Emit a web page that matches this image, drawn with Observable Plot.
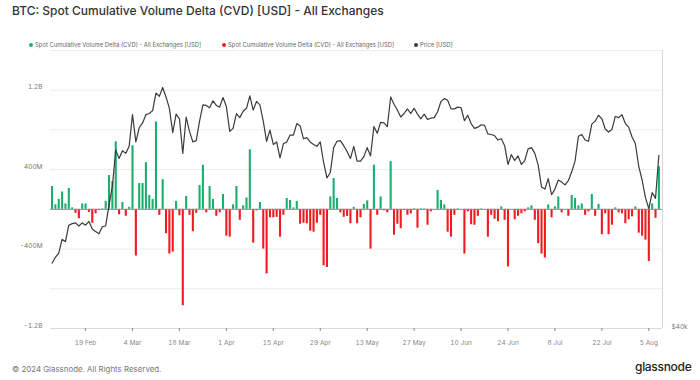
<!DOCTYPE html>
<html><head><meta charset="utf-8">
<script src="https://cdn.jsdelivr.net/npm/d3@7"></script>
<script src="https://cdn.jsdelivr.net/npm/@observablehq/plot@0.6"></script>
<style>
html,body{margin:0;padding:0;background:#fff;}
#wrap{position:relative;width:700px;height:380px;overflow:hidden;font-family:Inter,"Open Sans",sans-serif;}
#title{position:absolute;left:12px;top:3px;font-size:12px;font-weight:500;color:#333;white-space:nowrap;}
.item{position:absolute;top:41px;display:flex;align-items:center;font-size:5.9px;color:#666;white-space:nowrap;}
.dot{width:4px;height:4px;border-radius:50%;margin-right:2px;}
#chart,#price{position:absolute;left:0;top:0;}
#foot{position:absolute;left:12px;top:364px;font-size:7.9px;color:#777;white-space:nowrap;}
#logo{position:absolute;left:635px;top:359px;font-size:12px;font-weight:500;color:#222;letter-spacing:-0.3px;}
</style></head>
<body>
<div id="wrap">
  <div id="title"></div>
  <div id="legend"></div>
  <div id="chart"></div>
  <div id="price"></div>
  <div id="foot"></div>
  <div id="logo"></div>
</div>
<script>
const titleText = "BTC: Spot Cumulative Volume Delta (CVD) [USD] - All Exchanges";
const seriesNames = ["Spot Cumulative Volume Delta (CVD) - All Exchanges [USD]", "Spot Cumulative Volume Delta (CVD) - All Exchanges [USD]", "Price [USD]"];
const seriesColors = ["#1aaf6c", "#f2191f", "#3a3a3a"];
const footText = "© 2024 Glassnode. All Rights Reserved.";
const logoText = "glassnode";

// daily, 9 Feb 2024 .. 8 Aug 2024
const startDate = Date.UTC(2024, 1, 9);
const endDate = Date.UTC(2024, 7, 9);

// Spot CVD per day, millions USD
const cvdM = [
 230,45,100,175,55,210,15,-40,-95,55,55,-30,-140,-45,-12,5,80,340,280,680,
 -55,70,-70,20,640,-470,260,260,470,140,100,880,-60,300,-245,-450,-430,80,-65,-970,
 130,-60,-225,-40,240,445,-35,230,100,-70,-35,150,-270,-280,45,230,-110,35,115,600,
 -340,-15,70,-400,-650,-85,-85,-80,-280,-60,110,90,15,80,-150,-140,-145,-220,-230,-140,
 -60,-570,-585,125,310,110,-35,-80,-70,-145,20,-145,-85,50,85,-400,445,-60,125,-15,
 -35,480,-260,-150,-195,-10,-60,-45,5,-190,5,5,-160,-25,0,190,90,45,-230,-280,
 -60,5,0,-450,-25,-155,-160,-70,5,0,-280,-60,-100,-125,25,-110,-580,0,-105,-70,
 -45,-25,15,35,-110,-345,-450,-490,45,-85,25,125,-35,0,-70,140,110,35,55,-60,
 -25,150,-70,50,-255,-45,-255,-160,15,-35,-45,-145,-105,-75,25,-240,-270,-310,-525,55,
 -90,430
];

// BTC price per day, thousands USD
const priceK = [
 47.1,47.8,48.3,50.0,49.7,51.8,52.0,52.1,51.7,52.1,51.8,52.3,51.3,51.0,50.7,51.6,51.7,54.5,57.1,62.5,61.2,
 62.4,62.0,63.1,68.3,63.8,66.1,66.9,68.3,68.5,69.0,72.1,71.5,73.1,71.4,69.4,65.3,68.4,67.6,62.0,67.9,65.5,63.8,64.0,67.2,70.0,69.9,69.5,70.7,69.9,69.6,71.3,
 69.7,65.5,66.0,68.5,67.8,68.9,69.4,71.6,69.1,70.6,70.0,67.2,63.9,65.7,63.4,63.8,61.3,63.5,63.8,64.9,64.9,66.8,66.4,64.3,64.5,63.8,63.4,63.1,63.8,60.6,
 58.3,59.1,62.9,63.9,64.0,63.2,62.3,61.2,63.1,60.8,60.8,61.5,62.9,61.6,66.3,65.2,67.0,66.9,66.3,71.4,70.1,69.1,67.9,68.5,69.3,68.5,69.4,68.4,67.6,68.4,67.5,
 67.7,67.8,68.8,70.6,71.1,70.8,69.3,69.3,69.6,69.5,67.3,68.2,66.8,66.0,66.2,66.6,66.5,65.1,65.0,64.8,64.1,64.3,63.2,60.3,61.8,60.9,61.6,60.3,60.9,62.7,
 62.9,62.0,60.2,57.0,56.7,58.2,55.9,56.7,58.0,57.7,57.3,57.9,59.2,60.8,64.7,65.0,64.1,63.9,66.7,67.2,68.2,67.6,65.9,65.4,65.8,68.0,67.8,68.3,66.8,66.2,64.6,
 63.5,60.0,58.0,55.5,54.0,56.2,55.4,61.7
];

// axis ticks
const cvdTicks = [-1.2e9, -4e8, 4e8, 1.2e9];
const cvdTickLabels = ["-1.2B", "-400M", "400M", "1.2B"];
const cvdGrid = [-1.2e9, -8e8, -4e8, 0, 4e8, 8e8, 1.2e9, 1.6e9];
const priceTicks = [40000];
const priceTickLabels = ["$40k"];
const xTickDates = ["2024-02-19","2024-03-04","2024-03-18","2024-04-01","2024-04-15","2024-04-29","2024-05-13","2024-05-27","2024-06-10","2024-06-24","2024-07-08","2024-07-22","2024-08-05"];
const xTickLabels = ["19 Feb","4 Mar","18 Mar","1 Apr","15 Apr","29 Apr","13 May","27 May","10 Jun","24 Jun","8 Jul","22 Jul","5 Aug"];

// ---- build
document.getElementById("title").textContent = titleText;
document.getElementById("foot").textContent = footText;
document.getElementById("logo").textContent = logoText;
const legendLefts = [29, 222, 414];
const leg = document.getElementById("legend");
seriesNames.forEach((n, i) => {
  const it = document.createElement("div");
  it.className = "item"; it.style.left = legendLefts[i] + "px";
  const dot = document.createElement("span"); dot.className = "dot"; dot.style.background = seriesColors[i];
  const t = document.createElement("span"); t.textContent = n;
  it.appendChild(dot); it.appendChild(t); leg.appendChild(it);
});

const dates = d3.utcDay.range(startDate, endDate);
const rows = dates.map((d, i) => ({date: d, cvd: cvdM[i] * 1e6, price: priceK[i] * 1000}));
const xTicks = xTickDates.map(s => new Date(s + "T00:00:00Z"));
const xLab = new Map(xTicks.map((d, i) => [+d, xTickLabels[i]]));
const cvdLab = new Map(cvdTicks.map((d, i) => [d, cvdTickLabels[i]]));
const priceLab = new Map(priceTicks.map((d, i) => [d, priceTickLabels[i]]));

const W = 700, H = 360, mL = 50, mR = 38, mT = 50, mB = 32;
const xDomain = [new Date(Date.UTC(2024, 1, 8, 13)), new Date(Date.UTC(2024, 7, 9, 2))];
const common = {width: W, height: H, marginLeft: mL, marginRight: mR, marginTop: mT, marginBottom: mB,
  style: {fontFamily: "Inter, sans-serif", background: "transparent", overflow: "visible"}};

const chart = Plot.plot({
  ...common,
  x: {type: "utc", domain: xDomain},
  y: {domain: [-1.2e9, 1.6e9]},
  marks: [
    Plot.gridY(cvdGrid, {stroke: "#ececec", strokeOpacity: 1}),
    Plot.ruleY([-1.2e9], {stroke: "#d9d9d9"}),
    Plot.ruleX([xDomain[1]], {stroke: "#d9d9d9", strokeWidth: 1.2}),
    Plot.ruleX(rows.filter(d => d.cvd >= 0), {x: "date", y1: 0, y2: "cvd", stroke: seriesColors[0], strokeWidth: 2.1}),
    Plot.ruleX(rows.filter(d => d.cvd < 0), {x: "date", y1: 0, y2: "cvd", stroke: seriesColors[1], strokeWidth: 2.1}),
    Plot.ruleY([0], {stroke: "#8c8c8c"}),
    Plot.axisY(cvdTicks, {anchor: "left", tickSize: 0, tickPadding: 8, dy: -3, fontSize: 6.5, color: "#777", label: null, tickFormat: d => cvdLab.get(d)}),
    Plot.axisX(xTicks, {tickSize: 3, tickPadding: 9, fontSize: 6.5, color: "#888", label: null, tickFormat: d => xLab.get(+d)})
  ]
});
document.getElementById("chart").appendChild(chart);

const price = Plot.plot({
  ...common,
  x: {type: "utc", domain: xDomain, axis: null},
  y: {type: "log", domain: [40000, 80200]},
  marks: [
    Plot.lineY(rows, {x: "date", y: "price", stroke: seriesColors[2], strokeWidth: 1.2}),
    Plot.axisY(priceTicks, {anchor: "right", tickSize: 0, tickPadding: 9, dy: -2, fontSize: 6.5, color: "#777", label: null, tickFormat: d => priceLab.get(d)})
  ]
});
document.getElementById("price").appendChild(price);
</script>
</body></html>
